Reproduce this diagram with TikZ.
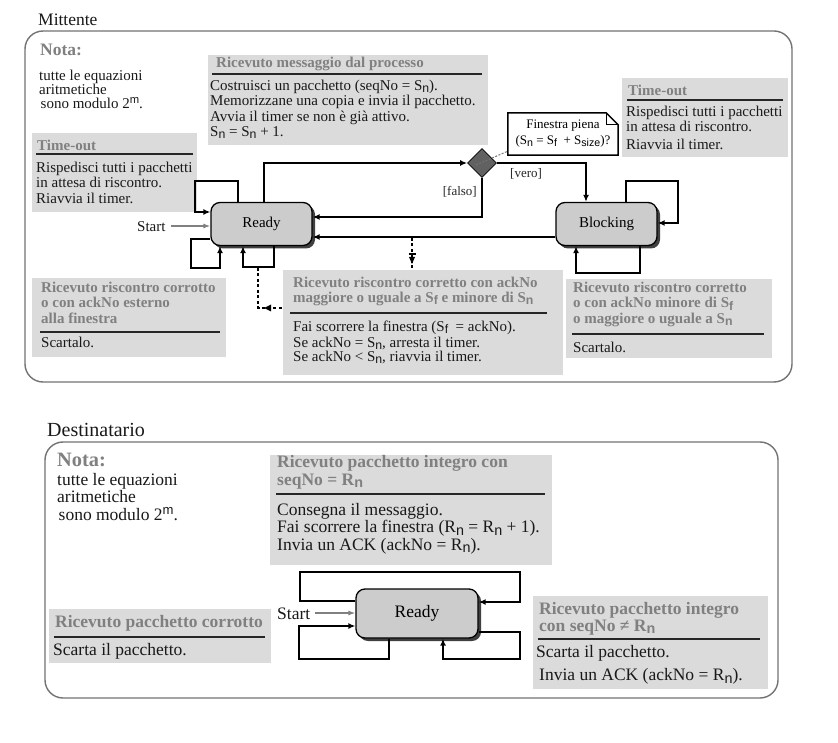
\documentclass[tikz,border=0pt]{standalone}
\usepackage{fontspec}
\setmainfont{Liberation Serif}
\newfontfamily\subfont{Liberation Sans}
\usepackage{graphicx}
\usetikzlibrary{arrows.meta,shapes.geometric,shadows}
\newcommand{\sbs}[1]{\raisebox{-0.3ex}{\subfont\scalebox{0.82}{#1}}}
\newcommand{\sps}[1]{\raisebox{0.75ex}{\subfont\scalebox{0.75}{#1}}}
\newcommand{\fa}{\fontsize{15}{15.3}\selectfont}
\newcommand{\fb}{\fontsize{17.5}{17.5}\selectfont}
\newcommand{\tp}{\rule{0pt}{14pt}}
\definecolor{boxgray}{gray}{0.86}
\definecolor{hdrgray}{gray}{0.5}
\definecolor{framegray}{gray}{0.45}
\definecolor{stategray}{gray}{0.8}
\begin{document}
\begin{tikzpicture}[x=1pt,y=-1pt,
  frame/.style={draw=framegray, line width=1.4pt, rounded corners=18pt},
  nbox/.style={fill=boxgray, draw=none, inner sep=0, anchor=north west},
  txt/.style={anchor=north west, inner sep=0, align=left, font=\fa, text=black!90},
  hdr/.style={txt, text=hdrgray, font=\fa\bfseries},
  rulel/.style={line width=1.3pt, draw=black!85},
  state/.style={draw=black, line width=1.3pt, fill=stategray, rounded corners=9pt, inner sep=0, font=\fa,
    drop shadow={shadow xshift=3pt, shadow yshift=-3pt, fill=black!75, opacity=1}},
  arr/.style={line width=1.8pt, -{Latex[length=7pt,width=6pt]}},
  sarr/.style={line width=1.2pt, draw=black!50, -{Latex[length=7pt,width=5pt]}},
  dsh/.style={line width=2.2pt, dash pattern=on 3pt off 2.5pt},
  lbl/.style={inner sep=0, font=\fontsize{13}{13}\selectfont, text=black!85},
]
\useasboundingbox (0,0) rectangle (838,743);
\fill[white] (0,0) rectangle (838,743);

% ---------- Mittente ----------
\node[txt, font=\fontsize{17.5}{17.5}\selectfont] (tmit) at (38,11) {\tp Mittente};
\draw[frame] (25,31) rectangle (792,382);

\node[hdr, font=\fontsize{17.5}{17.5}\selectfont\bfseries] (nota1) at (40,41) {\tp Nota:};
\node[txt, font=\fontsize{15}{13.5}\selectfont] (notab1) at (39,66) {\tp tutte le equazioni\\aritmetiche\\\hspace{1.5pt}sono modulo 2\sps{m}.};

% box: ricevuto messaggio
\node[nbox, minimum width=280, minimum height=90] (bmsg) at (208,55) {};
\node[hdr] (hmsg) at (216,53) {\tp Ricevuto messaggio dal processo};
\draw[rulel] (212,74) -- (482,74);
\node[txt, font=\fontsize{15}{15.5}\selectfont] (tmsg) at (210,76) {\tp Costruisci un pacchetto (seqNo = S\sbs{n}).\\Memorizzane una copia e invia il pacchetto.\\Avvia il timer se non è già attivo.\\S\sbs{n} = S\sbs{n} + 1.};

% box: time-out left
\node[nbox, minimum width=165, minimum height=79] (bto1) at (32,133) {};
\node[hdr] (hto1) at (37,136) {\tp Time-out};
\draw[rulel] (36,154) -- (193,154);
\node[txt] (tto1) at (36,158.5) {\tp Rispedisci tutti i pacchetti\\in attesa di riscontro.\\[0.5pt]Riavvia il timer.};

% box: time-out right
\node[nbox, minimum width=166, minimum height=79] (bto2) at (622,78) {};
\node[hdr] (hto2) at (628,81) {\tp Time-out};
\draw[rulel] (627,100) -- (783,100);
\node[txt, font=\fontsize{15}{15}\selectfont] (tto2) at (626,102.5) {\tp Rispedisci tutti i pacchetti\\in attesa di riscontro.\\[3pt]Riavvia il timer.};

% box: corrotto
\node[nbox, minimum width=194, minimum height=79] (bcor) at (32,278) {};
\node[hdr] (hcor) at (41,278.5) {\tp Ricevuto riscontro corrotto\\o con ackNo esterno\\alla finestra};
\draw[rulel] (40,332) -- (220,332);
\node[txt] (tcor) at (41,333.5) {\tp Scartalo.};

% box: corretto (middle)
\node[nbox, minimum width=280, minimum height=105] (bok) at (283,270) {};
\node[hdr, font=\fontsize{15}{15}\selectfont\bfseries] (hok) at (293,273.5) {\tp Ricevuto riscontro corretto con ackNo\\maggiore o uguale a S\sbs{f} e minore di S\sbs{n}};
\draw[rulel] (290,313) -- (547,313);
\node[txt, font=\fontsize{15}{13.5}\selectfont] (tok) at (293,317.5) {\tp Fai scorrere la finestra (S\sbs{f}~ = ackNo).\\[1.5pt]Se ackNo = S\sbs{n}, arresta il timer.\\Se ackNo < S\sbs{n}, riavvia il timer.};

% box: blocking discard
\node[nbox, minimum width=206, minimum height=79] (bblk) at (566,279) {};
\node[hdr] (hblk) at (573,278.5) {\tp Ricevuto riscontro corretto\\o con ackNo minore di S\sbs{f}\\o maggiore o uguale a S\sbs{n}};
\draw[rulel] (572,334) -- (764,334);
\node[txt] (tblk) at (573,338.5) {\tp Scartalo.};

% states
\node[state, minimum width=101, minimum height=43] (ready) at (261.5,224) {Ready};
\node[state, minimum width=101, minimum height=43] (blk) at (606.5,224) {Blocking};
\node[diamond, draw=black, line width=0.8pt, fill=black!62, minimum width=29, minimum height=29, inner sep=0] (dia) at (482,163) {};

% note finestra piena
\node[inner sep=0, minimum width=110, minimum height=42, align=center, font=\fontsize{13}{16}\selectfont] (fin) at (563,134) {Finestra piena\\(S\sbs{n} = S\sbs{f}~ + S\sbs{size})?};
\draw[line width=1.5pt, line join=miter] (fin.north west) -- ([xshift=-12pt]fin.north east) -- ([yshift=-12pt]fin.north east) -- (fin.south east) -- (fin.south west) -- cycle;
\draw[line width=1.1pt] ([xshift=-12pt]fin.north east) |- ([yshift=-12pt]fin.north east);
\draw[black!55, line width=1pt, dash pattern=on 2pt off 1.5pt] ([xshift=-6pt,yshift=-2pt]dia.center) -- ([yshift=4pt]fin.south west);

% connectors
\coordinate (y217) at (0,217);
\coordinate (y237) at (0,237);
\draw[arr] (ready.north -| 264,0) |- (dia.west);
\draw[arr] (dia.south) |- (ready.east |- y217);
\draw[arr] (dia.east) -| (blk.north -| 586,0);
\draw[arr] (blk.west |- y237) -- (ready.east |- y237);
\node[lbl, anchor=north east] (lf) at (477,181.5) {\tp [falso]};
\node[lbl, anchor=north west] (lv) at (510,163) {\tp [vero]};

\draw[arr] (ready.north -| 238,0) |- (195,181) |- (ready.west |- 0,212);
\draw[arr] (ready.west |- 0,239) -| (191,268) -| (ready.south -| 220,0);
\draw[arr] (ready.south -| 274,0) |- (243,267) -- (ready.south -| 243,0);

\node[txt] (start1) at (137,217.5) {\tp Start};
\draw[sarr, shorten <=5pt] (start1.east |- 0,226) -- (ready.west |- 0,226);

\draw[arr] (blk.north -| 626,0) |- (678,181) |- (blk.east |- 0,223);
\draw[arr] (blk.south -| 640,0) |- (576,273) -- (blk.south -| 576,0);

% dashed note links
\draw[dsh] (258,268) |- (bok.west |- 0,308);
\fill (264,308) -- (271,304.5) -- (271,311.5) -- cycle;
\draw[dsh] (412,238) -- (bok.north -| 412,0);
\draw[line width=1.2pt] (408.5,254) -- (415.5,254);
\fill (409,257) -- (415,257) -- (412,264) -- cycle;

% ---------- Destinatario ----------
\node[txt, font=\fontsize{20}{20}\selectfont] (tdest) at (47,422.5) {\tp Destinatario};
\draw[frame] (45,442) rectangle (778,698);

\node[hdr, font=\fontsize{20.4}{20}\selectfont\bfseries] (nota2) at (57,452.5) {\tp Nota:};
\node[txt, font=\fb] (notab2) at (57,471) {\tp tutte le equazioni\\aritmetiche\\\hspace{1.5pt}sono modulo 2\sps{m}.};

% box: integro
\node[nbox, minimum width=282, minimum height=110] (bint) at (270,455) {};
\node[hdr, font=\fontsize{17.5}{18}\selectfont\bfseries] (hint) at (277,453) {\tp Ricevuto pacchetto integro con\\seqNo = R\sbs{n}};
\draw[rulel] (276,494) -- (545,494);
\node[txt, font=\fb] (tint) at (277,501) {\tp Consegna il messaggio.\\Fai scorrere la finestra (R\sbs{n} = R\sbs{n} + 1).\\Invia un ACK (ackNo = R\sbs{n}).};

% box: corrotto
\node[nbox, minimum width=222, minimum height=54] (bpc) at (49,609) {};
\node[hdr, font=\fb\bfseries] (hpc) at (55,613) {\tp Ricevuto pacchetto corrotto};
\draw[rulel] (54,637) -- (265,637);
\node[txt, font=\fb] (tpc) at (53,641.5) {\tp Scarta il pacchetto.};

% box: integro non atteso
\node[nbox, minimum width=235, minimum height=93] (bnot) at (533,596) {};
\node[hdr, font=\fontsize{17.5}{17}\selectfont\bfseries] (hnot) at (539,600) {\tp Ricevuto pacchetto integro\\con seqNo ≠ R\sbs{n}};
\draw[rulel] (538,639) -- (760,639);
\node[txt, font=\fb] (tnot) at (536,643.5) {\tp Scarta il pacchetto.\\[5.5pt]\hspace{3pt}Invia un ACK (ackNo = R\sbs{n}).};

% receiver state
\node[state, minimum width=122, minimum height=49, font=\fb] (ready2) at (417,613.5) {Ready};
\draw[arr] (ready2.west |- 0,601) -| (300,572) -| (520,602) -- (ready2.east |- 0,602);
\draw[arr] (ready2.south -| 389,0) |- (299,659) |- (ready2.west |- 0,626);
\draw[arr] (ready2.east |- 0,632) -| (520,659) -| (ready2.south -| 443,0);
\node[txt, font=\fb] (start2) at (277,605) {\tp Start};
\draw[sarr, shorten <=5pt] (start2.east |- 0,613) -- (ready2.west |- 0,613);
\end{tikzpicture}
\end{document}
